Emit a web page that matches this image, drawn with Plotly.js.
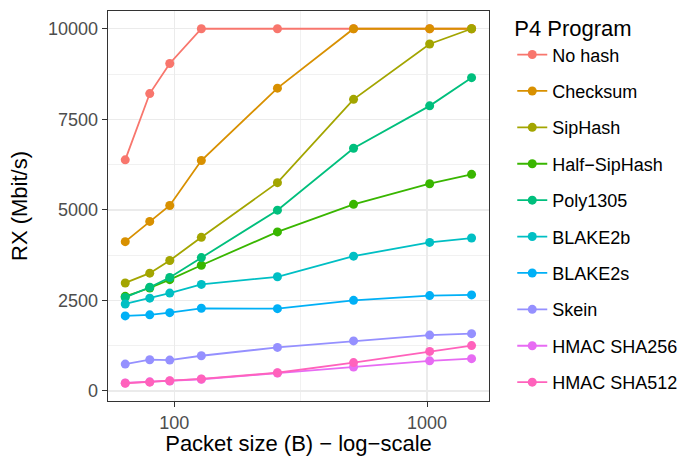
<!DOCTYPE html>
<html>
<head>
<meta charset="utf-8">
<script src="https://cdn.plot.ly/plotly-3.0.1.min.js"></script>
<style>html,body{margin:0;padding:0;background:#fff;}#chart{width:683px;height:456px;}</style>
</head>
<body>
<div id="chart"></div>
<script>
const packetSizes = [64, 80, 96, 128, 256, 512, 1024, 1500];
const programNames = ["No hash", "Checksum", "SipHash", "Half\u2212SipHash", "Poly1305", "BLAKE2b", "BLAKE2s", "Skein", "HMAC SHA256", "HMAC SHA512"];
const noHash      = [6380, 8210, 9040, 10000, 10000, 10000, 10000, 10000];
const checksum    = [4120, 4680, 5120, 6360, 8360, 10000, 10000, 10000];
const sipHash     = [2980, 3250, 3600, 4240, 5750, 8050, 9580, 10000];
const halfSipHash = [2610, 2840, 3070, 3470, 4390, 5150, 5720, 5980];
const poly1305    = [2580, 2860, 3130, 3680, 4990, 6700, 7870, 8650];
const blake2b     = [2400, 2560, 2700, 2940, 3150, 3720, 4100, 4220];
const blake2s     = [2070, 2100, 2160, 2280, 2270, 2500, 2630, 2650];
const skein       = [740, 860, 850, 970, 1200, 1380, 1540, 1580];
const hmacSha256  = [220, 250, 270, 320, 490, 660, 830, 890];
const hmacSha512  = [210, 240, 280, 330, 500, 780, 1090, 1250];
const yTickVals = [0, 2500, 5000, 7500, 10000];
const xTickVals = [100, 1000];

const series = [noHash, checksum, sipHash, halfSipHash, poly1305, blake2b, blake2s, skein, hmacSha256, hmacSha512];
const colors = ["#F8766D", "#D89000", "#A3A500", "#39B600", "#00BF7D", "#00BFC4", "#00B0F6", "#9590FF", "#E76BF3", "#FF62BC"];

const traces = series.map((vals, i) => ({
  type: "scatter",
  mode: "lines+markers",
  x: packetSizes,
  y: vals,
  name: programNames[i],
  legendgroup: "g" + i,
  line: {color: colors[i], width: 1.8},
  marker: {color: colors[i], size: 9}
}));

const FONT = "Liberation Sans, Arial, sans-serif";
const layout = {
  width: 683,
  height: 456,
  margin: {l: 108, r: 194, t: 11, b: 55},
  paper_bgcolor: "#ffffff",
  plot_bgcolor: "#ffffff",
  font: {family: FONT, size: 18, color: "#000"},
  showlegend: true,
  legend: {
    xref: "container", yref: "container",
    x: 0.750, xanchor: "left", y: 0.983, yanchor: "top",
    title: {text: "P4 Program", font: {size: 22, color: "#000"}},
    font: {size: 18, color: "#000"},
    tracegroupgap: 10,
    maxheight: 450,
    bgcolor: "rgba(0,0,0,0)"
  },
  xaxis: {
    type: "log",
    range: [Math.log10(54.7), Math.log10(1758)],
    tickmode: "array",
    tickvals: xTickVals,
    ticktext: xTickVals.map(String),
    ticks: "outside", ticklen: 5, tickwidth: 1.1, tickcolor: "#333",
    tickfont: {size: 18, color: "#4D4D4D"},
    showgrid: true, gridcolor: "#EBEBEB", gridwidth: 1.4,
    minor: {tickmode: "array", tickvals: [316.228], showgrid: true, gridcolor: "#EBEBEB", gridwidth: 0.7, ticks: ""},
    showline: true, linecolor: "#333", linewidth: 1.3, mirror: true,
    zeroline: false,
    automargin: false,
    title: {text: "Packet size (B) \u2212 log\u2212scale", font: {size: 22, color: "#000"}}
  },
  yaxis: {
    range: [-280, 10490],
    tickmode: "array",
    tickvals: yTickVals,
    ticktext: yTickVals.map(String),
    ticks: "outside", ticklen: 5, tickwidth: 1.1, tickcolor: "#333",
    tickfont: {size: 18, color: "#4D4D4D"},
    showgrid: true, gridcolor: "#EBEBEB", gridwidth: 1.4,
    minor: {tickmode: "linear", tick0: 1250, dtick: 2500, showgrid: true, gridcolor: "#EBEBEB", gridwidth: 0.7, ticks: ""},
    showline: true, linecolor: "#333", linewidth: 1.3, mirror: true,
    zeroline: false,
    automargin: true,
    title: {text: "RX (Mbit/s)", font: {size: 22, color: "#000"}, standoff: 14}
  }
};

Plotly.newPlot("chart", traces, layout, {displayModeBar: false, staticPlot: true});
</script>
</body>
</html>
